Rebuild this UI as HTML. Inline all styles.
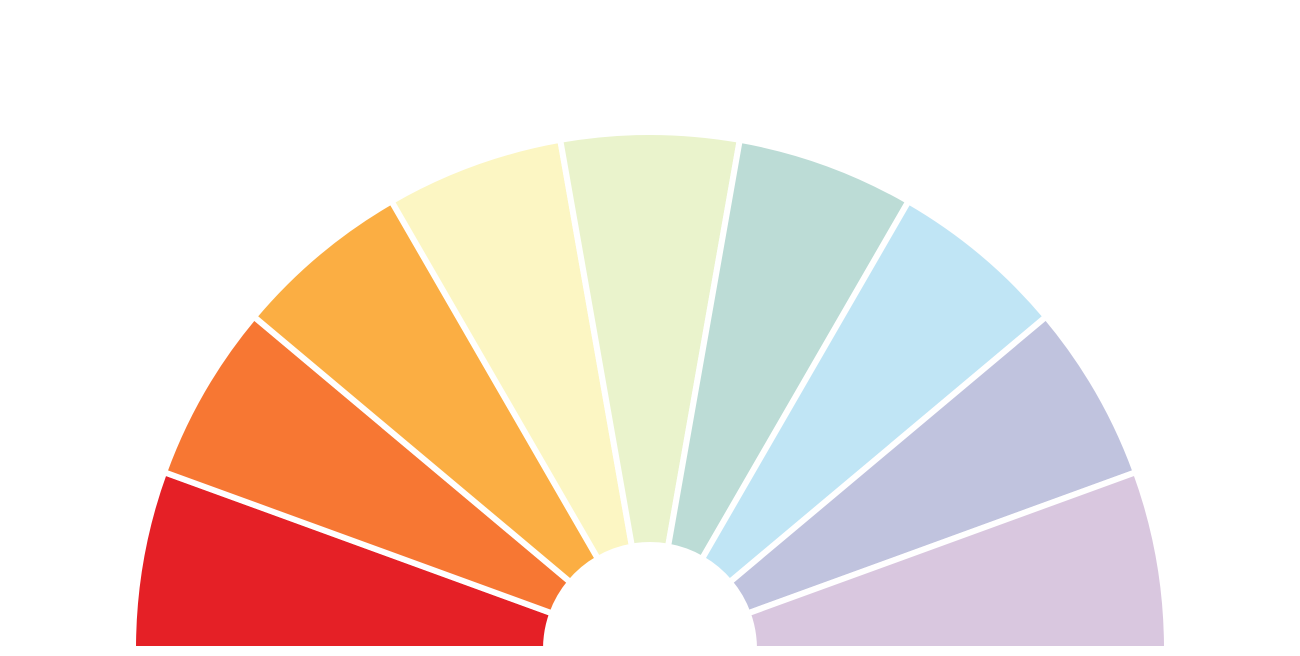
<!DOCTYPE html>
<html>
<head>
<meta charset="utf-8">
<style>
  html,body{margin:0;padding:0;background:#fff;}
  svg{display:block;}
</style>
</head>
<body>
<svg id="chart" width="1300" height="656" viewBox="0 0 1300 656" xmlns="http://www.w3.org/2000/svg"></svg>
<script>
const categories = ["s1","s2","s3","s4","s5","s6","s7","s8","s9"];
const values = [1,1,1,1,1,1,1,1,1];
const colors = ["#e52026","#f77733","#fbae43","#fcf6c3","#eaf3cc","#bcdcd6","#c0e5f5","#c0c3de","#d9c7df"];

const svg = document.getElementById('chart');
const cx = 650, cy = 649, R = 517, r = 104;
const total = values.reduce((a,b)=>a+b,0);
function pt(rad, ang){ return [cx - rad*Math.cos(ang), cy - rad*Math.sin(ang)]; }
let acc = 0;
values.forEach((v,i)=>{
  const a0 = acc/total*Math.PI;
  acc += v;
  const a1 = acc/total*Math.PI;
  const p0 = pt(R,a0), p1 = pt(R,a1), p2 = pt(r,a1), p3 = pt(r,a0);
  const large = (a1-a0) > Math.PI ? 1 : 0;
  const d = `M${p0[0]},${p0[1]} A${R},${R} 0 ${large} 1 ${p1[0]},${p1[1]} L${p2[0]},${p2[1]} A${r},${r} 0 ${large} 0 ${p3[0]},${p3[1]} Z`;
  const path = document.createElementNS('http://www.w3.org/2000/svg','path');
  path.setAttribute('d', d);
  path.setAttribute('fill', colors[i % colors.length]);
  path.setAttribute('stroke', '#fff');
  path.setAttribute('stroke-width', '6');
  path.setAttribute('stroke-linejoin', 'round');
  
  
  svg.appendChild(path);
});
</script>
</body>
</html>
